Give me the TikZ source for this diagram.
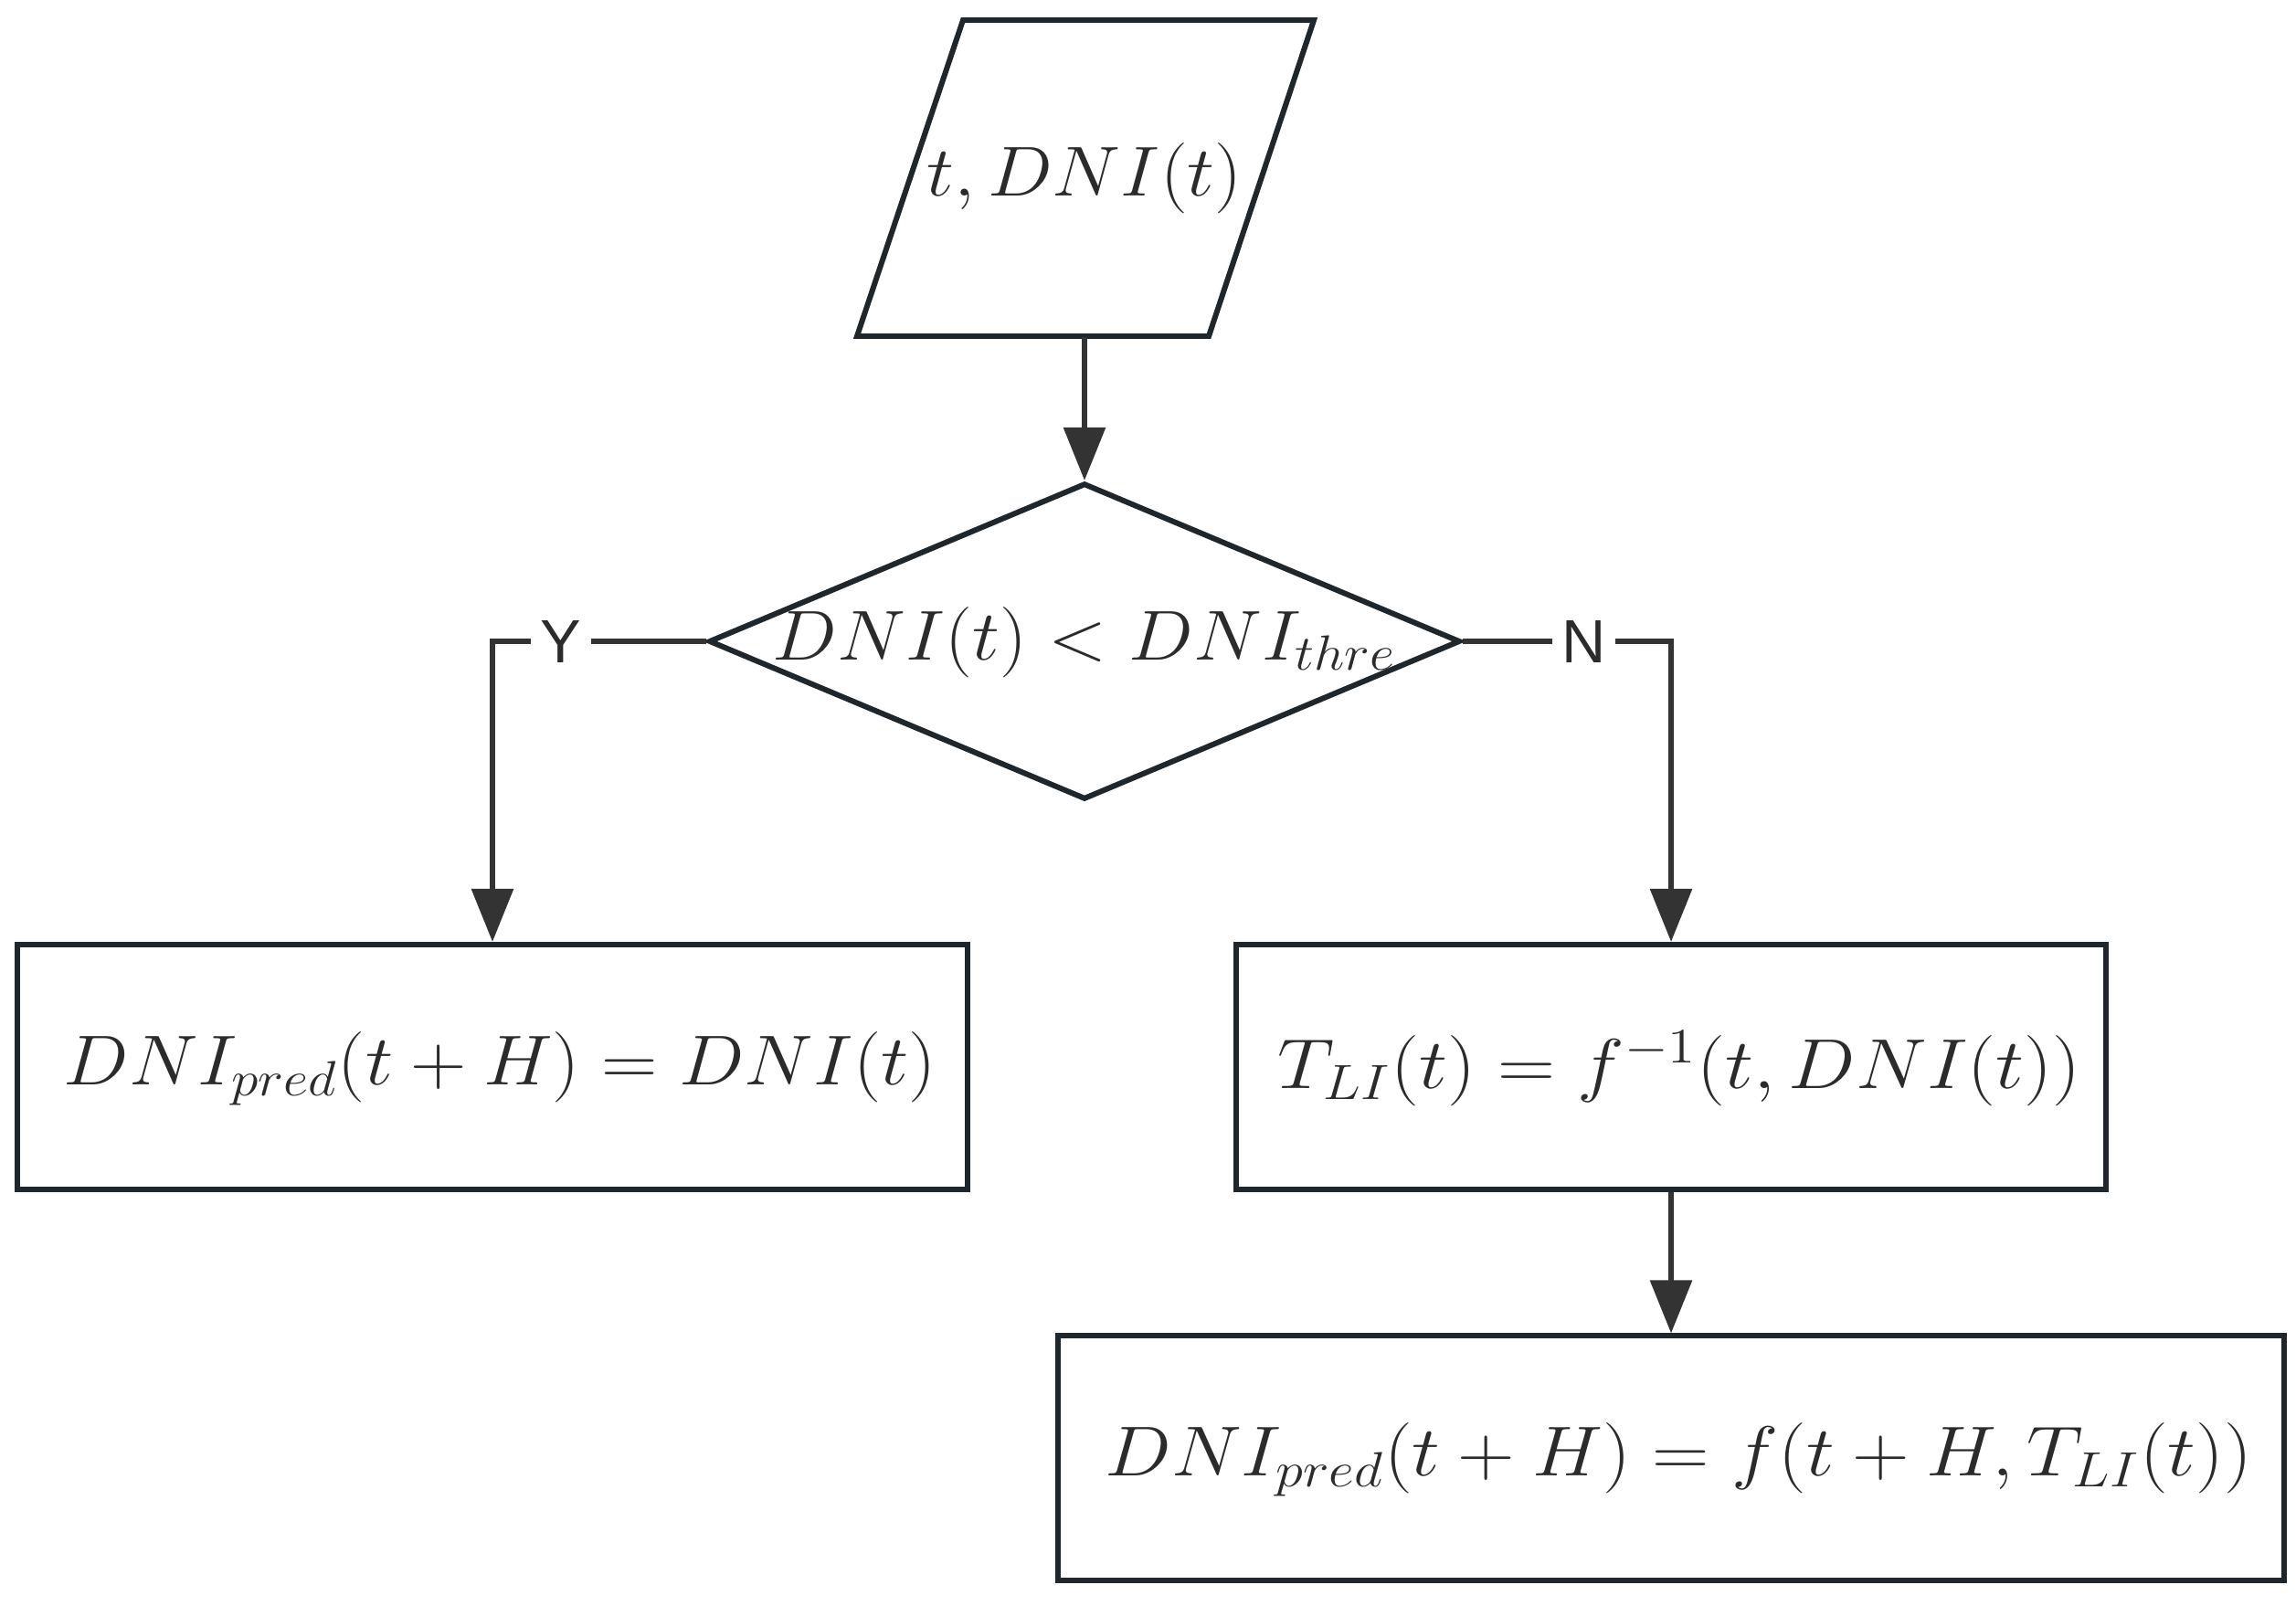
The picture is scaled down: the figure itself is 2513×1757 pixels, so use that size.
\RequirePackage{fix-cm}
\documentclass[tikz,border=0pt]{standalone}
\usepackage{fontspec}
\usepackage{graphicx}
\newfontfamily\labelfont{Liberation Sans}
\usetikzlibrary{shapes.geometric,arrows.meta}
\definecolor{boxline}{HTML}{1F272D}
\definecolor{conn}{HTML}{333333}
\definecolor{txt}{HTML}{2B2B2B}
\newcommand\widemath[2][1.09]{\scalebox{#1}[1]{$#2$}}
\tikzset{
  shapeline/.style={draw=boxline, line width=1.7pt, fill=white, inner sep=0pt},
  procbox/.style={shapeline, rectangle, minimum height=2.68cm},
  decision/.style={shapeline, diamond, minimum width=8.22cm, minimum height=3.46cm},
  mathtext/.style={text=txt, font=\fontsize{22}{26}\selectfont, inner sep=0pt},
  conarrow/.style={draw=conn, line width=1.7pt, -{Triangle[length=16.5pt,width=12.8pt]}},
  branchlabel/.style={fill=white, text=txt, font=\labelfont\fontsize{19}{22}\selectfont, inner xsep=3pt, inner ysep=2pt}
}
\begin{document}
\begin{tikzpicture}[x=0.01cm, y=-0.01cm]
\useasboundingbox (0,0) rectangle (2513,1757);
% input parallelogram
\draw[shapeline, line join=miter] (938,368) -- (1054,22) -- (1438,22) -- (1323,368) -- cycle;
\node[mathtext, minimum width=3.84cm, minimum height=3.46cm] (inp) at (1187,195) {\widemath{t, DNI(t)}};
% decision
\node[decision] (dec) at (1187,702) {};
\node[mathtext] (dectext) at (1187,703) {\widemath{DNI(t) < DNI_{thre}}};
% process boxes
\node[procbox, minimum width=10.4cm] (keep) at (539,1168) {};
\node[mathtext] (keeptext) at (547,1170) {\widemath[1.1]{DNI_{pred}(t+H) = DNI(t)}};
\node[procbox, minimum width=9.52cm] (inv) at (1829,1168) {};
\node[mathtext] (invtext) at (1838,1170) {\widemath[1.13]{T_{LI}(t) = f^{-1}(t, DNI(t))}};
\node[procbox, minimum width=13.42cm, minimum height=2.67cm] (pred) at (1829,1596) {};
\node[mathtext] (predtext) at (1837,1598) {\widemath[1.12]{DNI_{pred}(t+H) = f(t+H, T_{LI}(t))}};
% connectors
\draw[conarrow] (inp.south) -- (dec.north);
\draw[conarrow] (dec.west) -| node[branchlabel, pos=0.34] {Y} (keep.north);
\draw[conarrow] (dec.east) -| node[branchlabel, pos=0.29] {N} (inv.north);
\draw[conarrow] (inv.south) -- (pred.north);
\end{tikzpicture}
\end{document}
